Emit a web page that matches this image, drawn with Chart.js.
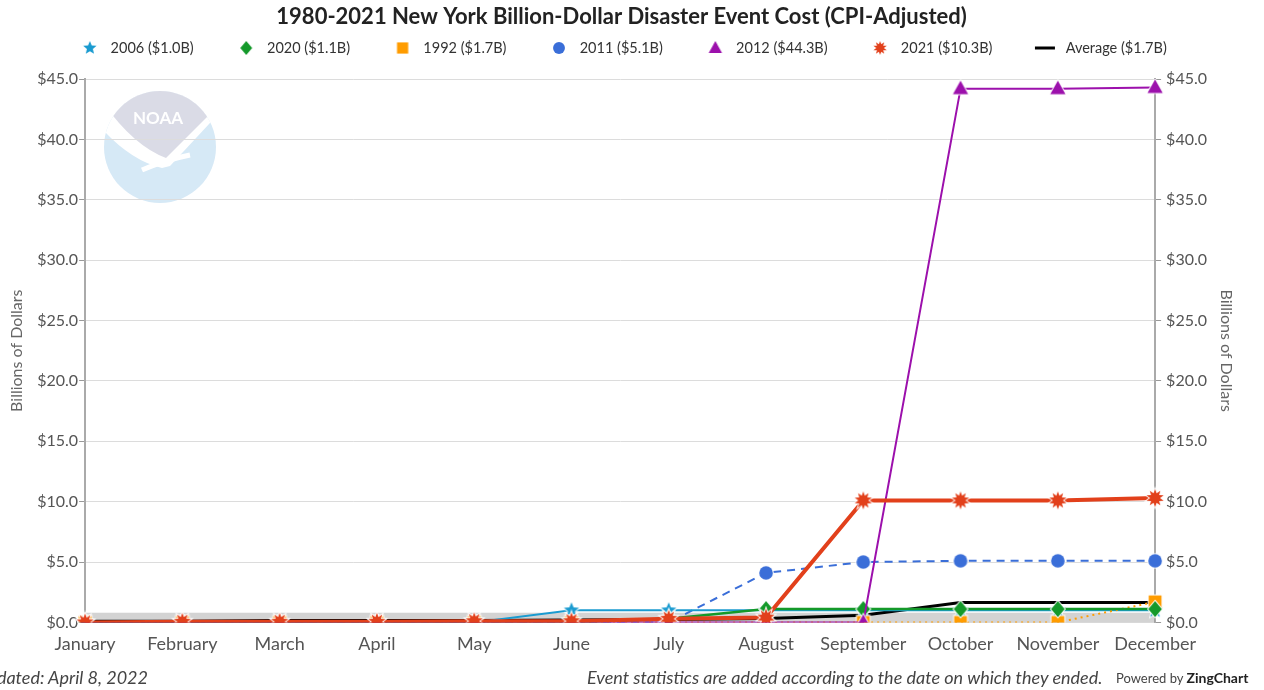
<!DOCTYPE html>
<html>
<head>
<meta charset="utf-8">
<script src="https://cdn.jsdelivr.net/npm/chart.js@4.4.1/dist/chart.umd.min.js"></script>
<style>
  html, body { margin: 0; padding: 0; background: #fff; }
  #wrap { position: relative; width: 1264px; height: 690px; overflow: hidden; font-family: Lato, sans-serif; }
  #c { position: absolute; left: 0; top: 0; }
  .foot { position: absolute; font-style: italic; font-size: 18px; color: #444; white-space: nowrap; line-height: 22px; }
  #upd { right: 1116px; top: 666px; }
  #evt { left: 587px; top: 666px; }
  #pow { left: 1116px; top: 669px; font-size: 13px; color: #444; white-space: nowrap; position: absolute; line-height: 18px; }
  #pow b { color: #222; font-size: 14px; }
</style>
</head>
<body>
<div id="wrap">
  <canvas id="c" width="1264" height="690"></canvas>
  <div class="foot" id="upd">Updated: April 8, 2022</div>
  <div class="foot" id="evt">Event statistics are added according to the date on which they ended.</div>
  <div id="pow">Powered by <b>ZingChart</b></div>
</div>
<script>
const months = ["January","February","March","April","May","June","July","August","September","October","November","December"];
const yTicks = [0, 5, 10, 15, 20, 25, 30, 35, 40, 45];
const seriesLabels = ["2006 ($1.0B)","2020 ($1.1B)","1992 ($1.7B)","2011 ($5.1B)","2012 ($44.3B)","2021 ($10.3B)","Average ($1.7B)"];
const y2006 = [0, 0, 0, 0, 0, 1.0, 1.0, 1.0, 1.0, 1.0, 1.0, 1.0];
const y2020 = [0, 0, 0, 0, 0, 0, 0.3, 1.1, 1.1, 1.1, 1.1, 1.1];
const y1992 = [0, 0, 0, 0, 0, 0, 0, 0, 0, 0, 0, 1.7];
const y2011 = [0, 0, 0, 0, 0, 0, 0, 4.1, 5.0, 5.1, 5.1, 5.1];
const y2012 = [0, 0, 0, 0, 0, 0, 0, 0, 0, 44.2, 44.2, 44.3];
const y2021 = [0, 0.05, 0.05, 0.05, 0.1, 0.1, 0.3, 0.4, 10.1, 10.1, 10.1, 10.3];
const yAvg = [0.1, 0.1, 0.15, 0.15, 0.15, 0.2, 0.25, 0.33, 0.6, 1.65, 1.65, 1.65];
const yBand = [0.8, 0.8, 0.8, 0.8, 0.8, 0.8, 0.8, 0.8, 0.8, 0.8, 0.8, 0.8];

const FONT = "Lato, sans-serif";

function makeMarker(type, color, s, border) {
  const pad = border ? 2 : 0;
  const size = Math.ceil(s * 2 + pad * 2 + 2);
  const cv = document.createElement('canvas');
  cv.width = size; cv.height = size;
  const g = cv.getContext('2d');
  const c = size / 2;
  g.beginPath();
  if (type === 'star' || type === 'burst') {
    const n = type === 'star' ? 5 : 10;
    const inner = type === 'star' ? s * 0.45 : s * 0.55;
    for (let i = 0; i < n * 2; i++) {
      const r = i % 2 === 0 ? s : inner;
      const a = -Math.PI / 2 + i * Math.PI / n;
      const x = c + r * Math.cos(a), y = c + r * Math.sin(a);
      if (i === 0) g.moveTo(x, y); else g.lineTo(x, y);
    }
    g.closePath();
  } else if (type === 'diamond') {
    g.moveTo(c, c - s); g.lineTo(c + s * 0.85, c); g.lineTo(c, c + s); g.lineTo(c - s * 0.85, c); g.closePath();
  } else if (type === 'square') {
    const h = s * 0.8; g.rect(c - h, c - h, 2 * h, 2 * h);
  } else if (type === 'circle') {
    g.arc(c, c, s * 0.85, 0, Math.PI * 2);
  } else if (type === 'triangle') {
    g.moveTo(c, c - s); g.lineTo(c + s * 0.95, c + s * 0.7); g.lineTo(c - s * 0.95, c + s * 0.7); g.closePath();
  } else if (type === 'line') {
    g.rect(c - s, c - 1.5, 2 * s, 3);
  }
  if (border) { g.lineWidth = 2; g.strokeStyle = 'rgba(255,255,255,0.95)'; g.stroke(); }
  g.fillStyle = color; g.fill();
  return cv;
}

const COLORS = ['#1a9bd0', '#14992a', '#ff9c00', '#3a6ed8', '#9c10ac', '#e2401b', '#000000'];
const TYPES = ['star', 'diamond', 'square', 'circle', 'triangle', 'burst', 'line'];
const pointImgs = TYPES.map((t, i) => t === 'line' ? false : makeMarker(t, COLORS[i], t === 'burst' ? 9 : 8, true));
const legendImgs = TYPES.map((t, i) => makeMarker(t, COLORS[i], t === 'line' ? 10 : 7, false));

const noaaLogo = {
  id: 'noaaLogo',
  beforeDraw(chart) {
    const g = chart.ctx;
    const cx = 160, cy = 147, r = 56;
    g.save();
    g.beginPath(); g.arc(cx, cy, r, 0, Math.PI * 2);
    g.fillStyle = '#d6e9f6'; g.fill();
    g.clip();
    g.beginPath();
    g.moveTo(96, 122); g.quadraticCurveTo(128, 160, 162, 168); g.lineTo(170, 166);
    g.lineTo(224, 108); g.lineTo(224, 80); g.lineTo(96, 80); g.closePath();
    g.fillStyle = '#ffffff'; g.fill();
    g.beginPath();
    g.moveTo(104, 80); g.lineTo(104, 104); g.quadraticCurveTo(134, 146, 166, 158);
    g.lineTo(214, 110); g.lineTo(214, 80); g.closePath();
    g.fillStyle = '#dadbe6'; g.fill();
    g.beginPath(); g.moveTo(142, 170); g.quadraticCurveTo(165, 160, 190, 155);
    g.lineWidth = 5; g.strokeStyle = '#ffffff'; g.stroke();
    g.fillStyle = '#ffffff'; g.font = 'bold 17px ' + FONT; g.textAlign = 'center'; g.textBaseline = 'middle';
    g.fillText('NOAA', 158, 119);
    g.restore();
  }
};

function ds(i, data, extra) {
  return Object.assign({
    label: seriesLabels[i], data: data, borderColor: COLORS[i], backgroundColor: COLORS[i],
    borderWidth: 2, pointStyle: pointImgs[i], pointRadius: 8, pointHoverRadius: 8, tension: 0, fill: false
  }, extra || {});
}

const datasets = [
  ds(0, y2006, { order: 4 }),
  ds(1, y2020, { order: 2, borderWidth: 2.5 }),
  ds(2, y1992, { order: 3, borderDash: [2, 4] }),
  ds(3, y2011, { order: 6, borderDash: [8, 6] }),
  ds(4, y2012, { order: 1 }),
  ds(5, y2021, { order: 0, borderWidth: 4 }),
  ds(6, yAvg, { order: 5, borderWidth: 3, pointRadius: 0, pointStyle: 'line' }),
  { label: 'band', data: yBand, borderWidth: 0, borderColor: 'rgba(0,0,0,0)', backgroundColor: 'rgba(150,150,150,0.42)', pointRadius: 0, fill: 'origin', order: 10 }
];

const money = v => '$' + Number(v).toFixed(1);

new Chart(document.getElementById('c'), {
  type: 'line',
  data: { labels: months, datasets: datasets },
  plugins: [noaaLogo],
  options: {
    responsive: false,
    animation: false,
    events: [],
    layout: { padding: { left: 3.5, right: 24.4, top: 0, bottom: 32 } },
    plugins: {
      title: { display: true, text: '1980-2021 New York Billion-Dollar Disaster Event Cost (CPI-Adjusted)',
        color: '#222', font: { family: FONT, size: 22, weight: 'bold' }, padding: { top: 4, bottom: -28.65 } },
      subtitle: { display: true, text: ' ', weight: 500, position: 'top', font: { family: FONT, size: 10 }, padding: { top: 0, bottom: 1.75 } },
      legend: {
        display: true,
        labels: {
          usePointStyle: true, pointStyleWidth: 27, boxHeight: 14.5, padding: 39,
          color: '#333', font: { family: FONT, size: 14.5 },
          generateLabels(chart) {
            return seriesLabels.map((t, i) => ({
              text: t, pointStyle: legendImgs[i], fillStyle: COLORS[i], strokeStyle: COLORS[i],
              lineWidth: 0, hidden: false, datasetIndex: i, fontColor: '#333'
            }));
          }
        }
      },
      tooltip: { enabled: false },
      filler: { propagate: false }
    },
    scales: {
      x: {
        offset: false,
        grid: { display: false },
        border: { display: false },
        ticks: { color: '#555', font: { family: FONT, size: 18 }, padding: 3, maxRotation: 0, autoSkip: false }
      },
      y: {
        position: 'left', min: 0, max: 45,
        afterBuildTicks(axis) { axis.ticks = yTicks.map(v => ({ value: v })); },
        grid: { color: '#dcdcdc', tickColor: '#999', tickLength: 6, lineWidth: 1 },
        border: { color: '#aaa', width: 2 },
        ticks: { color: '#555', font: { family: FONT, size: 16 }, padding: 1, callback: money },
        title: { display: true, text: 'Billions of Dollars', color: '#666', font: { family: FONT, size: 16 }, padding: { top: 4, bottom: 9.5 } }
      },
      y2: {
        position: 'right', min: 0, max: 45,
        afterBuildTicks(axis) { axis.ticks = yTicks.map(v => ({ value: v })); },
        grid: { drawOnChartArea: false, tickColor: '#999', tickLength: 6 },
        border: { color: '#aaa', width: 2 },
        ticks: { color: '#555', font: { family: FONT, size: 16 }, padding: 5, callback: money },
        title: { display: true, text: 'Billions of Dollars', color: '#666', font: { family: FONT, size: 16 }, padding: { top: 4, bottom: 4.4 } }
      }
    }
  }
});
</script>
</body>
</html>
